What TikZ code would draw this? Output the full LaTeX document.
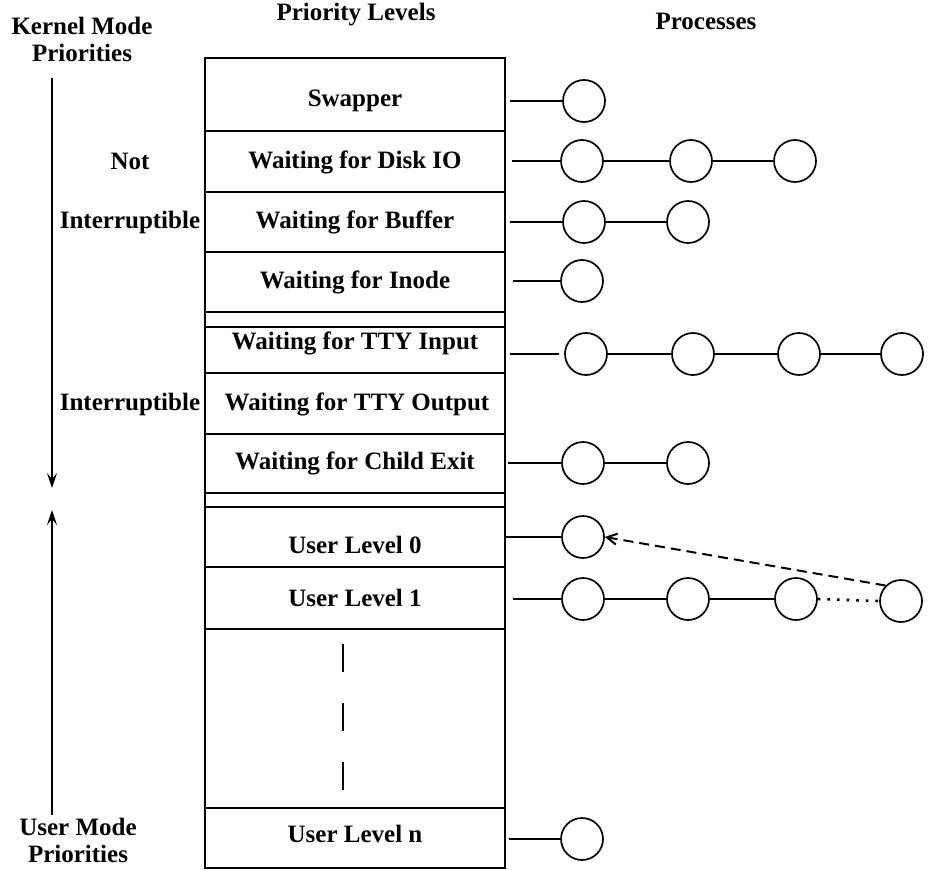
\documentclass[tikz,border=0pt]{standalone}
\usepackage{fontspec}
\setmainfont{Liberation Serif}
\usetikzlibrary{arrows.meta}

\tikzset{
  txt/.style={font=\bfseries\fontsize{25}{27}\selectfont, inner sep=0pt, align=center},
  proc/.style={circle, draw, line width=1.7pt, minimum size=42pt, inner sep=0pt},
  link/.style={line width=1.7pt},
  modearrow/.style={line width=1.7pt, -{Stealth[length=15pt, width=10pt, inset=6pt]}},
}

\begin{document}
\begin{tikzpicture}[x=1pt, y=-1pt]
    \useasboundingbox (0,0) rectangle (930,870);

    \draw[line width=2.2pt] (205,58) rectangle (505,868);
    \foreach \y in {131,192,252,312,327,373,434,493,507,567,629,808}
      \draw[line width=2.2pt] (205,\y) -- (505,\y);

    \coordinate (G1) at (343,644);
    \coordinate (G2) at (343,793);
    \draw[line width=2.2pt, dash pattern=on 28pt off 31pt] (G1) -- (G2);

    \node[txt] (levels) at (356,15) {Priority Levels};
    \node[txt] (procs) at (706,21) {Processes};

    \node[txt] (swapper) at (355,101) {Swapper};
    \node[txt] (disk) at (355,162) {Waiting for Disk IO};
    \node[txt] (buffer) at (355,222) {Waiting for Buffer};
    \node[txt] (inode) at (355,282) {Waiting for Inode};
    \node[txt] (ttyin) at (355,343) {Waiting for TTY Input};
    \node[txt] (ttyout) at (357,404) {Waiting for TTY Output};
    \node[txt] (child) at (355,463) {Waiting for Child Exit};
    \node[txt] (user0) at (355,545) {User Level 0};
    \node[txt] (user1) at (355,598) {User Level 1};
    \node[txt] (usern) at (355,834) {User Level n};

    \node[txt] (kernel) at (82,39) {Kernel Mode\\Priorities};
    \node[txt] (user) at (78,840) {User Mode\\Priorities};
    \node[txt] (not) at (130,161) {Not};
    \node[txt] (intr1) at (130,222) {Interruptible};
    \node[txt] (intr2) at (130,404) {Interruptible};

    \coordinate (K1) at (52,78);
    \coordinate (K2) at (52,488);
    \coordinate (U1) at (52,815);
    \coordinate (U2) at (52,510);
    \draw[modearrow] (K1) -- (K2);
    \draw[modearrow] (U1) -- (U2);

    % process queues
    \node[proc] (sw1) at (584,101) {};
    \node[proc] (dk1) at (582,161) {};
    \node[proc] (dk2) at (691,161) {};
    \node[proc] (dk3) at (795,161) {};
    \node[proc] (bf1) at (584,222) {};
    \node[proc] (bf2) at (688,222) {};
    \node[proc] (in1) at (582,281) {};
    \node[proc] (ti1) at (586,354) {};
    \node[proc] (ti2) at (693,354) {};
    \node[proc] (ti3) at (799,354) {};
    \node[proc] (ti4) at (902,354) {};
    \node[proc] (ch1) at (583,463) {};
    \node[proc] (ch2) at (688,463) {};
    \node[proc] (u01) at (583,537) {};
    \node[proc] (u11) at (583,599) {};
    \node[proc] (u12) at (688,599) {};
    \node[proc] (u13) at (796,599) {};
    \node[proc] (u14) at (901,601) {};
    \node[proc] (un1) at (582,839) {};

    \coordinate (swE) at (510,101);
    \coordinate (dkE) at (512,161);
    \coordinate (bfE) at (510,222);
    \coordinate (inE) at (513,281);
    \coordinate (tiE) at (510,354);
    \coordinate (chE) at (508,463);
    \coordinate (u0E) at (506,537);
    \coordinate (u1E) at (513,599);
    \coordinate (unE) at (509,839);

    \draw[link] (swE) -- (sw1);
    \draw[link] (dkE) -- (dk1) -- (dk2) -- (dk3);
    \draw[link] (bfE) -- (bf1) -- (bf2);
    \draw[link] (inE) -- (in1);
    \draw[link, shorten >=5pt] (tiE) -- (ti1.west);
    \draw[link] (ti1) -- (ti2) -- (ti3) -- (ti4);
    \draw[link] (chE) -- (ch1) -- (ch2);
    \draw[link] (u0E) -- (u01);
    \draw[link] (u1E) -- (u11) -- (u12) -- (u13);
    \draw[link, line width=2.6pt, dash pattern=on 2.6pt off 7pt] (u13.east) -- (u14.west);
    \draw[link, line width=2pt, dash pattern=on 10pt off 6pt, -{Straight Barb[length=10pt, width=11pt, line width=2pt]}] (u14.north west) -- (u01.east);
    \draw[link] (unE) -- (un1);
  \end{tikzpicture}
\end{document}
